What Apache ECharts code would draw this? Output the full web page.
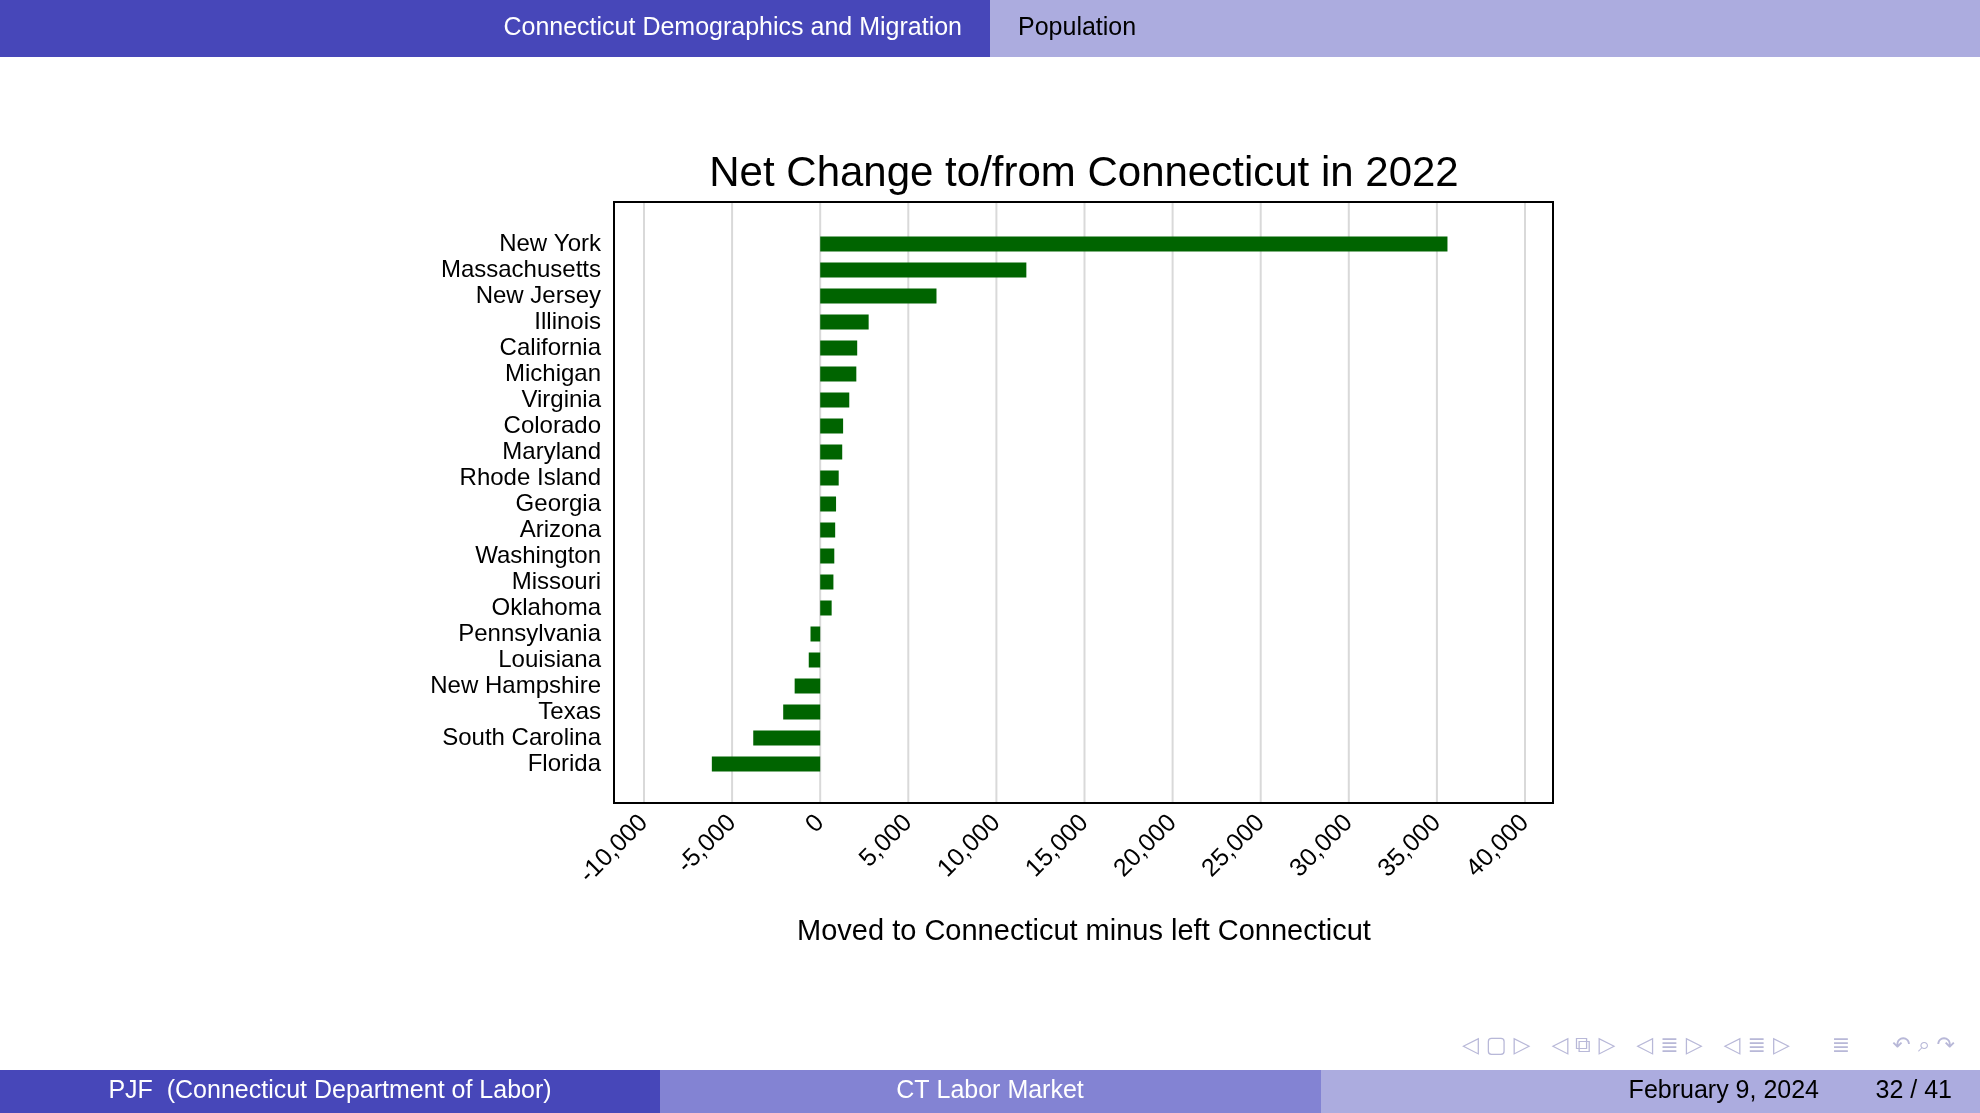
<!DOCTYPE html>
<html>
<head>
<meta charset="UTF-8">
<title></title>
<style>
  html, body { margin: 0; padding: 0; }
  #container { width: 1980px; height: 1113px; }
</style>
</head>
<body>
<div id="container"></div>
<script src="https://cdn.jsdelivr.net/npm/echarts@6/dist/echarts.min.js"></script>
<script>
var states = ['New York', 'Massachusetts', 'New Jersey', 'Illinois', 'California', 'Michigan',
  'Virginia', 'Colorado', 'Maryland', 'Rhode Island', 'Georgia', 'Arizona', 'Washington',
  'Missouri', 'Oklahoma', 'Pennsylvania', 'Louisiana', 'New Hampshire', 'Texas',
  'South Carolina', 'Florida'];
var netChange = [35600, 11700, 6600, 2750, 2100, 2050, 1650, 1300, 1250, 1050, 900, 850, 800,
  750, 650, -550, -650, -1450, -2100, -3800, -6150];
var xTicks = [-10000, -5000, 0, 5000, 10000, 15000, 20000, 25000, 30000, 35000, 40000];

var font = 'Liberation Sans';
var frameTop = 202, frameBottom = 803;
var myChart = echarts.init(document.getElementById('container'));

var graphics = [
  // header
  { type: 'rect', shape: { x: 0, y: 0, width: 990, height: 57 }, style: { fill: '#4747b9' } },
  { type: 'rect', shape: { x: 990, y: 0, width: 990, height: 57 }, style: { fill: '#acacdf' } },
  { type: 'text', x: 962, y: 28, style: { text: 'Connecticut Demographics and Migration', fill: '#fff',
    font: '25px "Liberation Sans"', textAlign: 'right', textVerticalAlign: 'middle' } },
  { type: 'text', x: 1018, y: 28, style: { text: 'Population', fill: '#000',
    font: '25px "Liberation Sans"', textVerticalAlign: 'middle' } },
  // footer
  { type: 'rect', shape: { x: 0, y: 1070, width: 660, height: 43 }, style: { fill: '#4747b9' } },
  { type: 'rect', shape: { x: 660, y: 1070, width: 661, height: 43 }, style: { fill: '#8383d3' } },
  { type: 'rect', shape: { x: 1321, y: 1070, width: 659, height: 43 }, style: { fill: '#acacdf' } },
  { type: 'text', x: 330, y: 1091, style: { text: 'PJF  (Connecticut Department of Labor)', fill: '#fff',
    font: '25px "Liberation Sans"', textAlign: 'center', textVerticalAlign: 'middle' } },
  { type: 'text', x: 990, y: 1091, style: { text: 'CT Labor Market', fill: '#fff',
    font: '25px "Liberation Sans"', textAlign: 'center', textVerticalAlign: 'middle' } },
  { type: 'text', x: 1819, y: 1091, style: { text: 'February 9, 2024', fill: '#000',
    font: '25px "Liberation Sans"', textAlign: 'right', textVerticalAlign: 'middle' } },
  { type: 'text', x: 1952, y: 1091, style: { text: '32 / 41', fill: '#000',
    font: '25px "Liberation Sans"', textAlign: 'right', textVerticalAlign: 'middle' } },
  // titles
  { type: 'text', x: 1084, y: 174, style: { text: 'Net Change to/from Connecticut in 2022', fill: '#000',
    font: '42px "Liberation Sans"', textAlign: 'center', textVerticalAlign: 'middle' } },
  { type: 'text', x: 1084, y: 932, style: { text: 'Moved to Connecticut minus left Connecticut', fill: '#000',
    font: '29px "Liberation Sans"', textAlign: 'center', textVerticalAlign: 'middle' } },
  // navigation symbols
  { type: 'text', x: 1955, y: 1046, style: { text: '◁ ▢ ▷   ◁ ⧉ ▷   ◁ ≣ ▷   ◁ ≣ ▷      ≣      ↶ ⌕ ↷', fill: '#b8b8d8',
    font: '22px "DejaVu Sans"', textAlign: 'right', textVerticalAlign: 'middle' } }
];

var option = {
  animation: false,
  textStyle: { fontFamily: font },
  grid: { left: 644, right: 1980 - 1525, top: 231, bottom: 1113 - 777, containLabel: false },
  xAxis: {
    type: 'value', min: -10000, max: 40000, interval: 5000,
    axisLine: { show: false }, axisTick: { show: false },
    splitLine: { show: false },
    axisLabel: {
      rotate: 45, margin: 42, fontSize: 25, color: '#000', fontFamily: font,
      formatter: function (v) { return v.toLocaleString('en-US'); }
    }
  },
  yAxis: {
    type: 'category', data: states, inverse: true,
    axisLine: { show: false }, axisTick: { show: false },
    axisLabel: { interval: 0, fontSize: 24, color: '#000', margin: 43, fontFamily: font }
  },
  series: [{
    type: 'bar', data: netChange, barWidth: 15, z: 5,
    itemStyle: { color: '#006400' }
  }],
  graphic: graphics
};
myChart.setOption(option);

// grid lines spanning the whole frame
xTicks.forEach(function (t) {
  var px = myChart.convertToPixel({ xAxisIndex: 0 }, t);
  graphics.push({ type: 'line', z: -1, shape: { x1: px, y1: frameTop, x2: px, y2: frameBottom },
    style: { stroke: '#d9d9d9', lineWidth: 2 } });
});
graphics.push({ type: 'rect', z: 10, shape: { x: 614, y: frameTop, width: 939, height: frameBottom - frameTop },
  style: { fill: 'none', stroke: '#000', lineWidth: 2 } });
myChart.setOption({ graphic: graphics });
</script>
</body>
</html>
